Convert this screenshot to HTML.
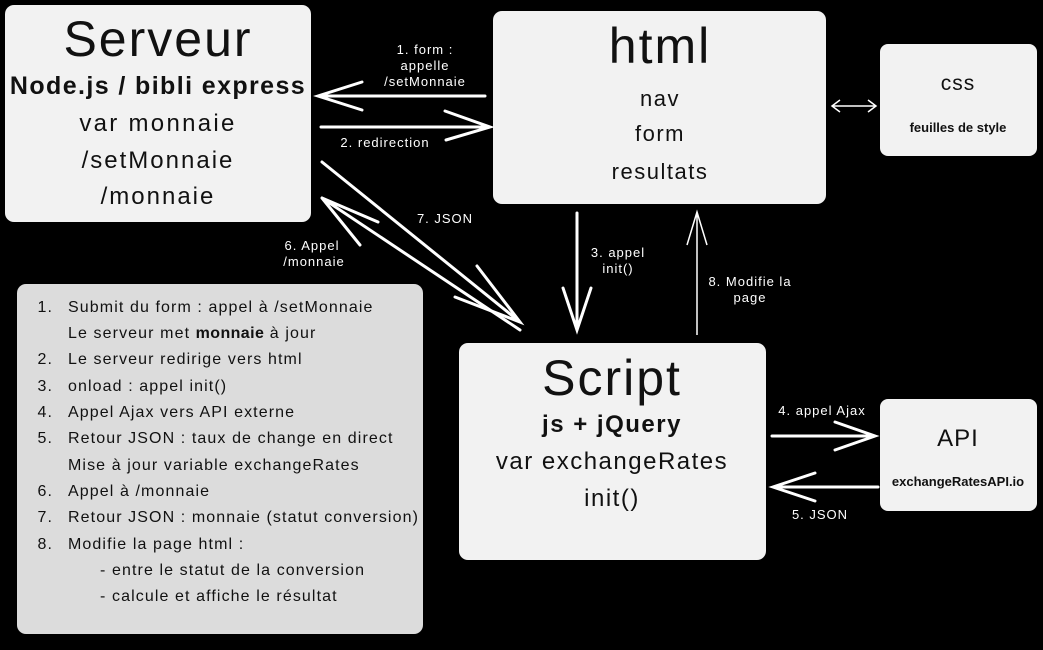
<!DOCTYPE html>
<html><head><meta charset="utf-8"><style>
html,body{margin:0;padding:0;background:#000;}
svg{display:block;}
text{font-family:"Liberation Sans",sans-serif;fill:#fff;}
.b text{fill:#111;}
</style></head><body>
<svg width="1043" height="650" viewBox="0 0 1043 650" xmlns="http://www.w3.org/2000/svg">
<rect width="1043" height="650" fill="#000"/>
<g class="b">
<rect x="5" y="5" width="306" height="217" rx="9" fill="#f2f2f2"/>
<text x="158" y="56" font-size="50" text-anchor="middle" letter-spacing="2">Serveur</text>
<text x="158" y="94" font-size="25" font-weight="bold" text-anchor="middle" letter-spacing="1.4">Node.js / bibli express</text>
<text x="158" y="131" font-size="24" text-anchor="middle" letter-spacing="2.3">var monnaie</text>
<text x="158" y="168" font-size="24" text-anchor="middle" letter-spacing="2">/setMonnaie</text>
<text x="158" y="204" font-size="24" text-anchor="middle" letter-spacing="2">/monnaie</text>

<rect x="493" y="11" width="333" height="193" rx="9" fill="#f2f2f2"/>
<text x="660" y="63" font-size="50" text-anchor="middle" letter-spacing="2">html</text>
<text x="660" y="106" font-size="22" text-anchor="middle" letter-spacing="1.5">nav</text>
<text x="660" y="141" font-size="22" text-anchor="middle" letter-spacing="1.5">form</text>
<text x="660" y="179" font-size="22" text-anchor="middle" letter-spacing="1.5">resultats</text>

<rect x="880" y="44" width="157" height="112" rx="8" fill="#f2f2f2"/>
<text x="958" y="90" font-size="21" text-anchor="middle" letter-spacing="1">css</text>
<text x="958" y="132" font-size="13" font-weight="bold" text-anchor="middle">feuilles de style</text>

<rect x="459" y="343" width="307" height="217" rx="9" fill="#f2f2f2"/>
<text x="612" y="395" font-size="50" text-anchor="middle" letter-spacing="2">Script</text>
<text x="612" y="432" font-size="24" font-weight="bold" text-anchor="middle" letter-spacing="1.5">js + jQuery</text>
<text x="612" y="469" font-size="24" text-anchor="middle" letter-spacing="1.5">var exchangeRates</text>
<text x="612" y="506" font-size="24" text-anchor="middle" letter-spacing="1.5">init()</text>

<rect x="880" y="399" width="157" height="112" rx="8" fill="#f2f2f2"/>
<text x="958" y="446" font-size="24" text-anchor="middle" letter-spacing="1">API</text>
<text x="958" y="486" font-size="13" font-weight="bold" text-anchor="middle">exchangeRatesAPI.io</text>

<rect x="17" y="284" width="406" height="350" rx="9" fill="#dcdcdc"/>
<g font-size="16" letter-spacing="1.1">
<text x="53" y="312" text-anchor="end">1.</text><text x="68" y="312">Submit du form : appel à /setMonnaie</text>
<text x="68" y="338">Le serveur met <tspan font-weight="bold" letter-spacing="0.4">monnaie</tspan> à jour</text>
<text x="53" y="364" text-anchor="end">2.</text><text x="68" y="364">Le serveur redirige vers html</text>
<text x="53" y="391" text-anchor="end">3.</text><text x="68" y="391">onload : appel init()</text>
<text x="53" y="417" text-anchor="end">4.</text><text x="68" y="417">Appel Ajax vers API externe</text>
<text x="53" y="443" text-anchor="end">5.</text><text x="68" y="443">Retour JSON : taux de change en direct</text>
<text x="68" y="470">Mise à jour variable exchangeRates</text>
<text x="53" y="496" text-anchor="end">6.</text><text x="68" y="496">Appel à /monnaie</text>
<text x="53" y="522" text-anchor="end">7.</text><text x="68" y="522">Retour JSON : monnaie (statut conversion)</text>
<text x="53" y="549" text-anchor="end">8.</text><text x="68" y="549">Modifie la page html :</text>
<text x="100" y="575">- entre le statut de la conversion</text>
<text x="100" y="601">- calcule et affiche le résultat</text>
</g>
</g>

<g stroke="#fff" stroke-width="3" fill="none" stroke-linecap="round">
<path d="M485 96 L318 96 M362 82 L318 96 L362 110"/>
<path d="M321 127 L490 127 M445 111 L490 127 L446 140"/>
<path d="M322 162 L520 322 M477 266 L520 322 L455 297"/>
<path d="M520 330 L322 198 M378 222 L322 198 L360 245"/>
<path d="M577 213 L577 330 M563 288 L577 330 L591 288"/>
<path d="M772 436 L875 436 M835 422 L875 436 L835 450"/>
<path d="M878 487 L773 487 M815 473 L773 487 L815 501"/>
</g>
<g stroke="#fff" stroke-width="1.5" fill="none">
<path d="M697 335 L697 212 M687 245 L697 212 L707 245"/>
<path d="M832 106 L876 106 M840 100 L832 106 L840 112 M868 100 L876 106 L868 112"/>
</g>

<g font-size="13" text-anchor="middle" letter-spacing="1">
<text x="425" y="54">1. form :</text>
<text x="425" y="70">appelle</text>
<text x="425" y="86">/setMonnaie</text>
<text x="385" y="147">2. redirection</text>
<text x="445" y="223">7. JSON</text>
<text x="312" y="250">6. Appel</text>
<text x="314" y="266">/monnaie</text>
<text x="618" y="257">3. appel</text>
<text x="618" y="273">init()</text>
<text x="750" y="286">8. Modifie la</text>
<text x="750" y="302">page</text>
<text x="822" y="415">4. appel Ajax</text>
<text x="820" y="519">5. JSON</text>
</g>
</svg>
</body></html>
